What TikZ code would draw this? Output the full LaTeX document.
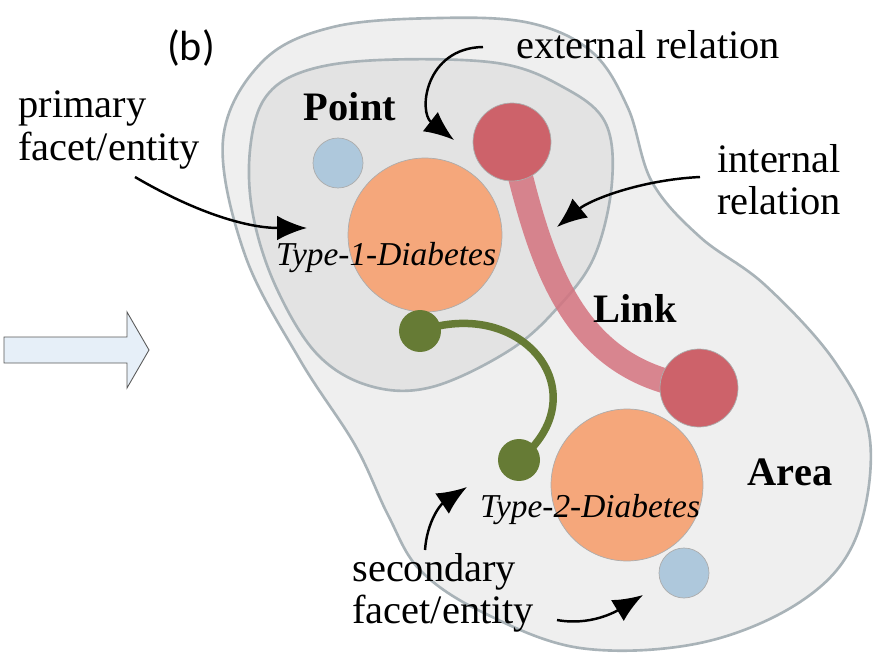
\documentclass[tikz,border=0pt]{standalone}
\usepackage{fontspec}
\setmainfont{Liberation Serif}
\newfontfamily\panelfont{Carlito}
\usetikzlibrary{arrows.meta}
\definecolor{areafill}{HTML}{EFEFEF}
\definecolor{pointfill}{HTML}{E3E3E3}
\definecolor{rim}{HTML}{A9B3B8}
\definecolor{facetorange}{HTML}{F5A77B}
\definecolor{facetblue}{HTML}{AEC8DC}
\definecolor{linkred}{HTML}{CD626A}
\definecolor{linkpink}{HTML}{D4737F}
\definecolor{olive}{HTML}{667B35}
\definecolor{arrowfill}{HTML}{E6EFF8}
\begin{document}
\begin{tikzpicture}[x=0.02cm,y=-0.02cm,
    txt/.style={font=\fontsize{23}{24}\selectfont, inner sep=0pt},
    bold/.style={font=\fontsize{23}{24}\selectfont\bfseries, inner sep=0pt},
    disease/.style={font=\fontsize{19}{21}\selectfont\itshape, inner sep=0pt},
    ball/.style={circle, draw=gray!65, line width=0.4pt, inner sep=0pt},
    hint/.style={-{Latex[length=17pt,width=14pt]}, line width=1.4pt}]
    \useasboundingbox (0,0) rectangle (875,655);
    % region outlines
    \draw[rim, line width=1.5pt, fill=areafill] plot[smooth cycle, tension=0.6] coordinates {
        (223,140) (262,62) (333,27) (440,18) (530,23) (592,52) (628,108)
        (652,182) (700,237) (765,285) (835,362) (870,440) (855,540) (800,602)
        (700,643) (580,648) (482,612) (420,570) (388,515) (355,445) (300,360)
        (245,255)};
    \draw[rim, line width=1.5pt, fill=pointfill] plot[smooth cycle, tension=0.6] coordinates {
        (250,150) (265,98) (305,71) (380,60) (497,63) (563,87) (605,122)
        (612,182) (595,255) (560,305) (510,350) (432,387) (370,386) (317,354)
        (276,287) (253,215)};
    % block arrow
    \draw[gray!70!black, line width=0.5pt, fill=arrowfill] (4,337) -- (127,337) -- (127,312)
        -- (149,350) -- (127,388) -- (127,363) -- (4,363) -- cycle;
    % links
    \coordinate (r1) at (512,142);
    \coordinate (r2) at (699,388);
    \coordinate (g1) at (420,331);
    \coordinate (g2) at (519,460);
    \draw[linkpink, opacity=0.85, line width=0.5cm] (r1) .. controls (540,260) and (570,372) .. (r2);
    \draw[olive, line width=0.15cm] (g1) .. controls (525,295) and (600,395) .. (g2);
    % facets
    \node[ball, fill=facetorange, minimum size=3.08cm] (type1) at (425,235) {};
    \node[ball, fill=facetorange, minimum size=3.04cm] (type2) at (627,485) {};
    \node[ball, fill=facetblue, minimum size=1.0cm] (blue1) at (338,163) {};
    \node[ball, fill=facetblue, minimum size=1.0cm] (blue2) at (684,573) {};
    \node[ball, fill=linkred, minimum size=1.56cm] (redA) at (r1) {};
    \node[ball, fill=linkred, minimum size=1.56cm] (redB) at (r2) {};
    \node[circle, fill=olive, inner sep=0pt, minimum size=0.84cm] (greenA) at (g1) {};
    \node[circle, fill=olive, inner sep=0pt, minimum size=0.84cm] (greenB) at (g2) {};
    % labels
    \node[inner sep=0pt, font=\panelfont\fontsize{24}{26}\selectfont] (panel) at (191,48) {(b)};
    \node[bold] (point) at (350,107) {Point};
    \node[bold] (link) at (635,308) {Link};
    \node[bold] (area) at (790,472) {Area};
    \node[disease] (t1) at (386,258) {Type-1-Diabetes};
    \node[disease] (t2) at (590,510) {Type-2-Diabetes};
    \node[txt, align=left, anchor=west] (primary) at (18,130) {primary\\facet/entity};
    \node[txt] (external) at (648,45) {external relation};
    \node[txt, align=left, anchor=west] (internal) at (717,180) {internal\\relation};
    \node[txt, align=left, anchor=west] (secondary) at (352,593) {secondary\\facet/entity};
    % pointers
    \coordinate (p0) at (135,177);
    \coordinate (p1) at (307,228);
    \coordinate (e0) at (483,47);
    \coordinate (e1) at (454,140);
    \coordinate (i0) at (700,177);
    \coordinate (i1) at (557,227);
    \coordinate (s0) at (425,550);
    \coordinate (s1) at (467,487);
    \coordinate (u0) at (557,620);
    \coordinate (u1) at (643,595);
    \draw[hint] (p0) .. controls (200,215) and (250,228) .. (p1);
    \draw[hint] (e0) .. controls (425,48) and (418,112) .. (e1);
    \draw[hint] (i0) .. controls (640,180) and (590,200) .. (i1);
    \draw[hint] (s0) .. controls (427,522) and (440,505) .. (s1);
    \draw[hint] (u0) .. controls (590,626) and (615,612) .. (u1);
\end{tikzpicture}
\end{document}
